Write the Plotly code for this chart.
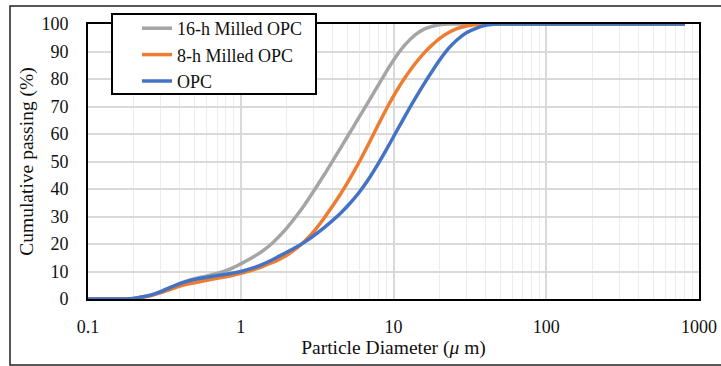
import plotly.graph_objects as go

# Particle diameter (µm)
diameter = [0.1, 0.12, 0.15, 0.18, 0.2, 0.23, 0.26, 0.3, 0.35, 0.4, 0.45, 0.5, 0.6, 0.7, 0.8, 0.9,
            1.0, 1.2, 1.4, 1.6, 1.8, 2.0, 2.3, 2.6, 3.0, 3.5, 4.0, 4.5, 5.0, 5.5, 6.0, 7.0, 8.0, 9.0,
            10, 11, 12, 14, 16, 18, 20, 23, 26, 30, 35, 40, 45, 50, 60, 80, 100, 150, 200, 300, 500, 810]

milled_16h = [0, 0, 0, 0, 0.2, 0.8, 1.5, 2.8, 4.3, 5.7, 6.7, 7.4, 8.4, 9.3, 10.3, 11.5,
              12.8, 15.2, 17.6, 20.2, 23.0, 25.8, 30.0, 34.0, 39.2, 45.0, 50.2, 54.9, 59.1, 62.9, 66.4, 72.6, 78.0, 82.8,
              86.8, 90.1, 92.7, 96.2, 98.2, 99.2, 99.7, 100, 100, 100, 100, 100, 100, 100, 100, 100, 100, 100, 100, 100, 100, 100]

milled_8h = [0, 0, 0, 0, 0.2, 0.7, 1.3, 2.3, 3.6, 4.7, 5.4, 5.9, 6.8, 7.5, 8.1, 8.7,
             9.3, 10.6, 11.9, 13.2, 14.5, 15.9, 18.3, 20.8, 24.5, 29.3, 33.9, 38.2, 42.3, 46.3, 50.1, 57.3, 63.7, 69.2,
             73.8, 77.6, 80.8, 85.9, 89.7, 92.5, 94.7, 96.9, 98.3, 99.3, 99.8, 100, 100, 100, 100, 100, 100, 100, 100, 100, 100, 100]

opc = [0, 0, 0, 0, 0.2, 0.8, 1.5, 2.7, 4.3, 5.6, 6.5, 7.1, 7.9, 8.5, 9.0, 9.5,
       10.0, 11.3, 12.7, 14.2, 15.7, 17.0, 18.8, 20.6, 23.0, 25.9, 28.6, 31.2, 33.8, 36.4, 39.0, 44.3, 49.5, 54.4,
       59.0, 63.1, 66.9, 73.3, 78.6, 83.0, 86.8, 91.2, 94.2, 96.8, 98.5, 99.5, 99.9, 100, 100, 100, 100, 100, 100, 100, 100, 100]

series_names = ["16-h Milled OPC", "8-h Milled OPC", "OPC"]
series_colors = ["#A5A5A5", "#ED7D31", "#4472C4"]
x_tickvals = [0.1, 1, 10, 100, 1000]
x_ticktext = ["0.1", "1", "10", "100", "1000"]

FONT = "Liberation Serif"

fig = go.Figure()
for name, vals, col in zip(series_names, [milled_16h, milled_8h, opc], series_colors):
    fig.add_trace(go.Scatter(x=diameter, y=vals, mode="lines", name=name,
                             line=dict(color=col, width=3.5, shape="spline", smoothing=0.8)))

fig.update_layout(
    width=721, height=366,
    margin=dict(l=88, r=22, t=24, b=67, autoexpand=False),
    paper_bgcolor="white", plot_bgcolor="white",
    font=dict(family=FONT, size=18, color="#111111"),
    showlegend=True,
    legend=dict(x=(137 - 88) / 611, y=(299 - 10) / 275, xanchor="left", yanchor="top",
                borderwidth=0, bgcolor="rgba(0,0,0,0)",
                font=dict(family=FONT, size=18, color="#111111"),
                tracegroupgap=0, itemwidth=30),
    xaxis=dict(type="log", range=[-1, 3], tickvals=x_tickvals, ticktext=x_ticktext,
               showgrid=True, gridcolor="#d9d9d9", gridwidth=1.5,
               minor=dict(showgrid=True, gridcolor="#ececec", gridwidth=1.2, dtick="D1"),
               showline=True, linecolor="black", linewidth=2, mirror=True,
               ticks="", ticklabelstandoff=10,
               title=dict(text="Particle Diameter (<i>μ</i> m)", standoff=5,
                          font=dict(family=FONT, size=19.5))),
    yaxis=dict(range=[0, 100], dtick=10, showgrid=True, gridcolor="#d9d9d9", gridwidth=1.5,
               showline=True, linecolor="black", linewidth=2, mirror=True,
               ticks="", ticklabelstandoff=14, zeroline=False,
               title=dict(text="Cumulative passing (%)", standoff=3,
                          font=dict(family=FONT, size=19.5))),
    shapes=[
        dict(type="rect", xref="paper", yref="paper",
             x0=(10 - 88) / 611, x1=1.5,
             y0=(299 - 365) / 275, y1=(299 - 6) / 275,
             line=dict(color="#222222", width=1.5), layer="below"),
        dict(type="rect", xref="paper", yref="paper",
             x0=(112 - 88) / 611, x1=(316 - 88) / 611,
             y0=(299 - 94) / 275, y1=(299 - 14) / 275,
             line=dict(color="black", width=2), fillcolor="white", layer="above"),
    ],
)

fig.write_html("out.html")
